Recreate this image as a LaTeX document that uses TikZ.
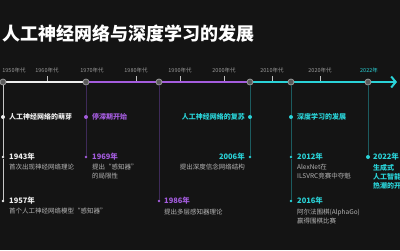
\documentclass[tikz,border=0pt]{standalone}
\usepackage{fontspec}
\newfontfamily\cjk{Noto Sans CJK SC}
\usetikzlibrary{arrows.meta}
\definecolor{tlBg}{HTML}{141414}
\definecolor{tlWhite}{HTML}{EEEEEE}
\definecolor{tlPurple}{HTML}{A45CDE}
\definecolor{tlCyan}{HTML}{2AD3D8}
\definecolor{tlDarkPurple}{HTML}{3E2A58}
\definecolor{tlDarkCyan}{HTML}{1C5B5F}
\definecolor{tlGray}{HTML}{B5B5B5}
\definecolor{tlTick}{HTML}{9A9A9A}
\tikzset{
  ticklabel/.style={font=\cjk\fontsize{5.5}{6}\selectfont,text=tlTick,inner sep=0pt},
  tickmark/.style={draw=tlTick!60,line width=.6pt},
  marker/.style={circle,draw=tlTick,fill=tlBg!70!white,line width=.8pt,minimum size=6pt,inner sep=0pt},
  secdot/.style={circle,fill=#1,minimum size=4pt,inner sep=0pt},
  evdot/.style={circle,fill=#1,minimum size=2.6pt,inner sep=0pt},
  sectext/.style={font=\cjk\bfseries\fontsize{7}{9}\selectfont,text=#1,inner sep=0pt},
  yeartext/.style={font=\cjk\bfseries\fontsize{7.5}{9}\selectfont,text=#1,inner sep=0pt},
  desctext/.style={font=\cjk\fontsize{6.5}{9}\selectfont,text=tlGray,inner sep=0pt},
  vline/.style={draw=#1,line width=.9pt}
}
\begin{document}
\begin{tikzpicture}[x=1pt,y=-1pt]
\fill[tlBg] (0,0) rectangle (400,250);
\clip (0,0) rectangle (400,250);
% title
\node[anchor=west,font=\cjk\bfseries\fontsize{18}{20}\selectfont,text=white,inner sep=0pt] (title) at (2,34) {人工神经网络与深度学习的发展};
% decade labels and ticks
\node[ticklabel] (l1950) at (14,70) {1950年代};
\node[ticklabel] (l1960) at (47,70) {1960年代};
\node[ticklabel] (l1970) at (92,70) {1970年代};
\node[ticklabel] (l1980) at (136,70) {1980年代};
\node[ticklabel] (l1990) at (180,70) {1990年代};
\node[ticklabel] (l2000) at (224,70) {2000年代};
\node[ticklabel] (l2010) at (272,70) {2010年代};
\node[ticklabel] (l2020) at (320,70) {2020年代};
\node[ticklabel,text=tlCyan] (l2022) at (369,70) {2022年};
\draw[tickmark] (l1960.south) ++(0,3) -- ++(0,5);
\draw[tickmark] (l1980.south) ++(0,3) -- ++(0,5);
\draw[tickmark] (l1990.south) ++(0,3) -- ++(0,5);
\draw[tickmark] (l2000.south) ++(0,3) -- ++(0,5);
\draw[tickmark] (l2010.south) ++(0,3) -- ++(0,5);
\draw[tickmark] (l2020.south) ++(0,3) -- ++(0,5);
% main axis
\coordinate (t1950) at (3,82);
\coordinate (t1970) at (86,82);
\coordinate (t1986) at (159,82);
\coordinate (tsplit) at (247,82);
\coordinate (t2006) at (250,82);
\coordinate (t2012) at (291,82);
\coordinate (t2022) at (368,82);
\coordinate (tend) at (397,82);
\draw[tlWhite,line width=2.6pt] (t1950) -- (t1970);
\draw[tlPurple,line width=2.6pt] (t1970) -- (tsplit);
\draw[tlCyan,line width=2.6pt,-{Straight Barb[length=4.5pt,width=11pt,line width=2pt]}] (tsplit) -- (tend);
% event dots
\node[secdot=tlWhite] (s1) at (3,117) {};
\node[evdot=tlWhite] (d1943) at (3,157) {};
\node[evdot=tlWhite] (d1957) at (3,201) {};
\node[secdot=tlPurple] (s2) at (86,117) {};
\node[evdot=tlPurple] (d1969) at (86,157) {};
\node[evdot=tlPurple] (d1986) at (159,201) {};
\node[secdot=tlCyan] (s3) at (250,117) {};
\node[evdot=tlCyan] (d2006) at (250,157) {};
\node[secdot=tlCyan] (s4) at (291,117) {};
\node[evdot=tlCyan] (d2012) at (291,157) {};
\node[evdot=tlCyan] (d2016) at (291,201) {};
\node[secdot=tlCyan] (d2022) at (368,157) {};
% markers on the axis
\node[marker] (m1950) at (t1950) {};
\node[marker] (m1970) at (t1970) {};
\node[marker] (m1986) at (t1986) {};
\node[marker] (m2006) at (t2006) {};
\node[marker] (m2012) at (t2012) {};
\node[marker] (m2022) at (t2022) {};
% drop lines
\draw[vline=tlTick!55] (m1950) -- (s1);
\draw[vline=tlTick!55] (s1) -- (d1943);
\draw[vline=tlTick!55] (d1943) -- (d1957);
\draw[vline=tlDarkPurple] (m1970) -- (s2);
\draw[vline=tlDarkPurple] (s2) -- (d1969);
\draw[vline=tlDarkPurple] (m1986) -- (d1986);
\draw[vline=tlDarkCyan] (m2006) -- (s3);
\draw[vline=tlDarkCyan] (s3) -- (d2006);
\draw[vline=tlDarkCyan] (m2012) -- (s4);
\draw[vline=tlDarkCyan] (s4) -- (d2012);
\draw[vline=tlDarkCyan] (d2012) -- (d2016);
\draw[vline=tlDarkCyan] (m2022) -- (d2022);
% texts
\node[sectext=tlWhite,anchor=west] (h1) at (9,117) {人工神经网络的萌芽};
\node[yeartext=tlWhite,anchor=west] (y1943) at (9,157) {1943年};
\node[desctext,anchor=north west,align=left] (x1943) at (9,164) {首次出现神经网络理论};
\node[yeartext=tlWhite,anchor=west] (y1957) at (9,201) {1957年};
\node[desctext,anchor=north west,align=left] (x1957) at (9,208) {首个人工神经网络模型“感知器”};
\node[sectext=tlPurple,anchor=west] (h2) at (92,117) {停滞期开始};
\node[yeartext=tlPurple,anchor=west] (y1969) at (92,157) {1969年};
\node[desctext,anchor=north west,align=left] (x1969) at (92,164) {提出“感知器”\\的局限性};
\node[yeartext=tlPurple,anchor=west] (y1986) at (164,201) {1986年};
\node[desctext,anchor=north west,align=left] (x1986) at (164,209) {提出多层感知器理论};
\node[sectext=tlCyan,anchor=east] (h3) at (245,117) {人工神经网络的复苏};
\node[yeartext=tlCyan,anchor=east] (y2006) at (245,157) {2006年};
\node[desctext,anchor=north east,align=right] (x2006) at (245,164) {提出深度信念网络结构};
\node[sectext=tlCyan,anchor=west] (h4) at (297,117) {深度学习的发展};
\node[yeartext=tlCyan,anchor=west] (y2012) at (297,157) {2012年};
\node[desctext,anchor=north west,align=left] (x2012) at (297,164) {AlexNet在\\ILSVRC竞赛中夺魁};
\node[yeartext=tlCyan,anchor=west] (y2016) at (297,201) {2016年};
\node[desctext,anchor=north west,align=left] (x2016) at (297,209) {阿尔法围棋(AlphaGo)\\赢得围棋比赛};
\node[yeartext=tlCyan,anchor=west] (y2022) at (373,157) {2022年};
\node[sectext=tlCyan,anchor=north west,align=left] (x2022) at (373,164) {生成式\\人工智能\\热潮的开始};
\end{tikzpicture}
\end{document}
